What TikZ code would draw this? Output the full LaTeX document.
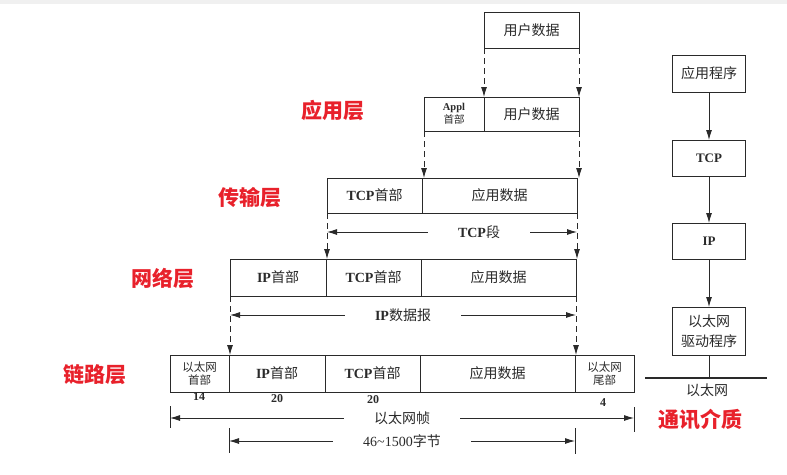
\documentclass[tikz,border=0pt]{standalone}
\usepackage{fontspec}
\setmainfont{Liberation Serif}
\newfontfamily\cjk{Noto Sans CJK SC}
\usetikzlibrary{arrows.meta}
\newcommand\zhtxt[1]{{\cjk #1}}
\definecolor{labred}{HTML}{E8212B}
\definecolor{ink}{HTML}{2A2A2A}
\begin{document}
\begin{tikzpicture}[x=1pt,y=-1pt,
  cell/.style={draw=ink, line width=1pt, inner sep=0pt, outer sep=0pt, anchor=north west,
    text=ink, font=\fontsize{14}{16}\selectfont, align=center},
  smallcell/.style={cell, font=\fontsize{11.5}{13.5}\selectfont},
  rbox/.style={draw=ink, line width=1pt, inner sep=0pt, outer sep=0pt, minimum width=73pt,
    text=ink, font=\fontsize{14}{20}\selectfont, align=center},
  dasharrow/.style={draw=ink, line width=0.9pt, dash pattern=on 6pt off 4pt, -{Latex[length=10pt,width=6pt]}},
  dimarrow/.style={draw=ink, line width=0.9pt, {Latex[length=10pt,width=6pt]}-{Latex[length=10pt,width=6pt]}},
  dimtext/.style={fill=white, inner xsep=30pt, inner ysep=1pt, text=ink, font=\fontsize{14}{16}\selectfont},
  tick/.style={draw=ink, line width=0.9pt},
  solidarrow/.style={draw=ink, line width=0.9pt, -{Latex[length=10pt,width=6pt]}},
  layer/.style={text=labred, font=\cjk\bfseries\fontsize{21}{23}\selectfont},
  num/.style={text=ink, font=\bfseries\fontsize{12}{13}\selectfont}
]
\useasboundingbox (0,0) rectangle (787,474);
\fill[gray!12] (0,0) rectangle (787,4);

% top user data
\node[cell, minimum width=95pt, minimum height=36pt] (u0) at (484,12) {\zhtxt{用户数据}};

% application row
\node[cell, font=\fontsize{10.5}{13}\selectfont, minimum width=60pt, minimum height=34pt] (a1) at (424,97) {\textbf{Appl}\\\zhtxt{首部}};
\node[cell, minimum width=95pt, minimum height=34pt] (a2) at (484,97) {\zhtxt{用户数据}};

% transport row
\node[cell, minimum width=95pt, minimum height=35pt] (t1) at (327,178) {\textbf{TCP}\zhtxt{首部}};
\node[cell, minimum width=155pt, minimum height=35pt] (t2) at (422,178) {\zhtxt{应用数据}};

% network row
\node[cell, minimum width=96pt, minimum height=37pt] (n1) at (230,259) {\textbf{IP}\zhtxt{首部}};
\node[cell, minimum width=95pt, minimum height=37pt] (n2) at (326,259) {\textbf{TCP}\zhtxt{首部}};
\node[cell, minimum width=155pt, minimum height=37pt] (n3) at (421,259) {\zhtxt{应用数据}};

% link row
\node[smallcell, minimum width=59pt, minimum height=37pt] (l1) at (170,355) {\zhtxt{以太网}\\\zhtxt{首部}};
\node[cell, minimum width=96pt, minimum height=37pt] (l2) at (229,355) {\textbf{IP}\zhtxt{首部}};
\node[cell, minimum width=95pt, minimum height=37pt] (l3) at (325,355) {\textbf{TCP}\zhtxt{首部}};
\node[cell, minimum width=155pt, minimum height=37pt] (l4) at (420,355) {\zhtxt{应用数据}};
\node[smallcell, minimum width=59pt, minimum height=37pt] (l5) at (575,355) {\zhtxt{以太网}\\\zhtxt{尾部}};

% dashed arrows user data -> appl
\draw[dasharrow] (u0.south west) -- (u0.south west |- a2.north);
\draw[dasharrow] (u0.south east) -- (u0.south east |- a2.north);
% appl -> transport
\draw[dasharrow] (a1.south west) -- (a1.south west |- t1.north);
\draw[dasharrow] (a2.south east) -- (a2.south east |- t2.north);
% transport -> network
\draw[dasharrow] (t1.south west) -- (t1.south west |- n2.north);
\draw[dasharrow] (t2.south east) -- (t2.south east |- n3.north);
% network -> link
\draw[dasharrow] (n1.south west) -- (n1.south west |- l2.north);
\draw[dasharrow] (n3.south east) -- (n3.south east |- l4.north);

% TCP segment dimension
\coordinate (tcpL) at (t1.south west |- 0,232);
\coordinate (tcpR) at (t2.south east |- 0,232);
\draw[dimarrow] (tcpL) -- node[dimtext, xshift=27pt] (tcpseg) {\textbf{TCP}\zhtxt{段}} (tcpR);

% IP datagram dimension
\coordinate (ipL) at (n1.south west |- 0,315);
\coordinate (ipR) at (n3.south east |- 0,315);
\draw[dimarrow] (ipL) -- node[dimtext] (ipdg) {\textbf{IP}\zhtxt{数据报}} (ipR);

% numbers
\node[num] (b14) at (199,397) {14};
\node[num] (b20a) at (277,399) {20};
\node[num] (b20b) at (373,400) {20};
\node[num] (b4) at (603,403) {4};

% ethernet frame dimension
\coordinate (efL) at (l1.south west |- 0,418);
\coordinate (efR) at (l5.south east |- 0,418);
\draw[tick] (l1.south west |- 0,406) -- (l1.south west |- 0,428);
\draw[tick] (l5.south east |- 0,407) -- (l5.south east |- 0,432);
\draw[dimarrow] (efL) -- node[dimtext] (efr) {\zhtxt{以太网帧}} (efR);

% 46~1500 bytes dimension
\coordinate (pyL) at (l2.south west |- 0,441);
\coordinate (pyR) at (l4.south east |- 0,441);
\draw[tick] (l2.south west |- 0,428) -- (l2.south west |- 0,453);
\draw[tick] (l4.south east |- 0,428) -- (l4.south east |- 0,454);
\draw[dimarrow] (pyL) -- node[dimtext] (pyld) {46\textasciitilde 1500\zhtxt{字节}} (pyR);

% layer labels
\node[layer] (lapp) at (333,110) {应用层};
\node[layer] (ltra) at (250,198) {传输层};
\node[layer] (lnet) at (163,278) {网络层};
\node[layer] (llnk) at (95,375) {链路层};

% right column
\node[rbox, minimum height=37pt] (r1) at (709,73.5) {\zhtxt{应用程序}};
\node[rbox, minimum height=36pt, font=\bfseries\fontsize{13}{15}\selectfont] (r2) at (709,158) {TCP};
\node[rbox, minimum height=36pt, font=\bfseries\fontsize{13}{15}\selectfont] (r3) at (709,241) {IP};
\node[rbox, minimum height=48pt] (r4) at (709,331) {\zhtxt{以太网}\\\zhtxt{驱动程序}};
\draw[solidarrow] (r1.south) -- (r2.north);
\draw[solidarrow] (r2.south) -- (r3.north);
\draw[solidarrow] (r3.south) -- (r4.north);
\coordinate (ethL) at (645,378);
\coordinate (ethR) at (767,378);
\draw[draw=ink, line width=2.6pt] (ethL) -- (ethR);
\draw[draw=ink, line width=0.9pt] (r4.south) -- (r4.south |- ethL);
\node[text=ink, font=\cjk\fontsize{14}{16}\selectfont] (ethtxt) at (707,390) {以太网};
\node[layer] (medium) at (700,420) {通讯介质};
\end{tikzpicture}
\end{document}
